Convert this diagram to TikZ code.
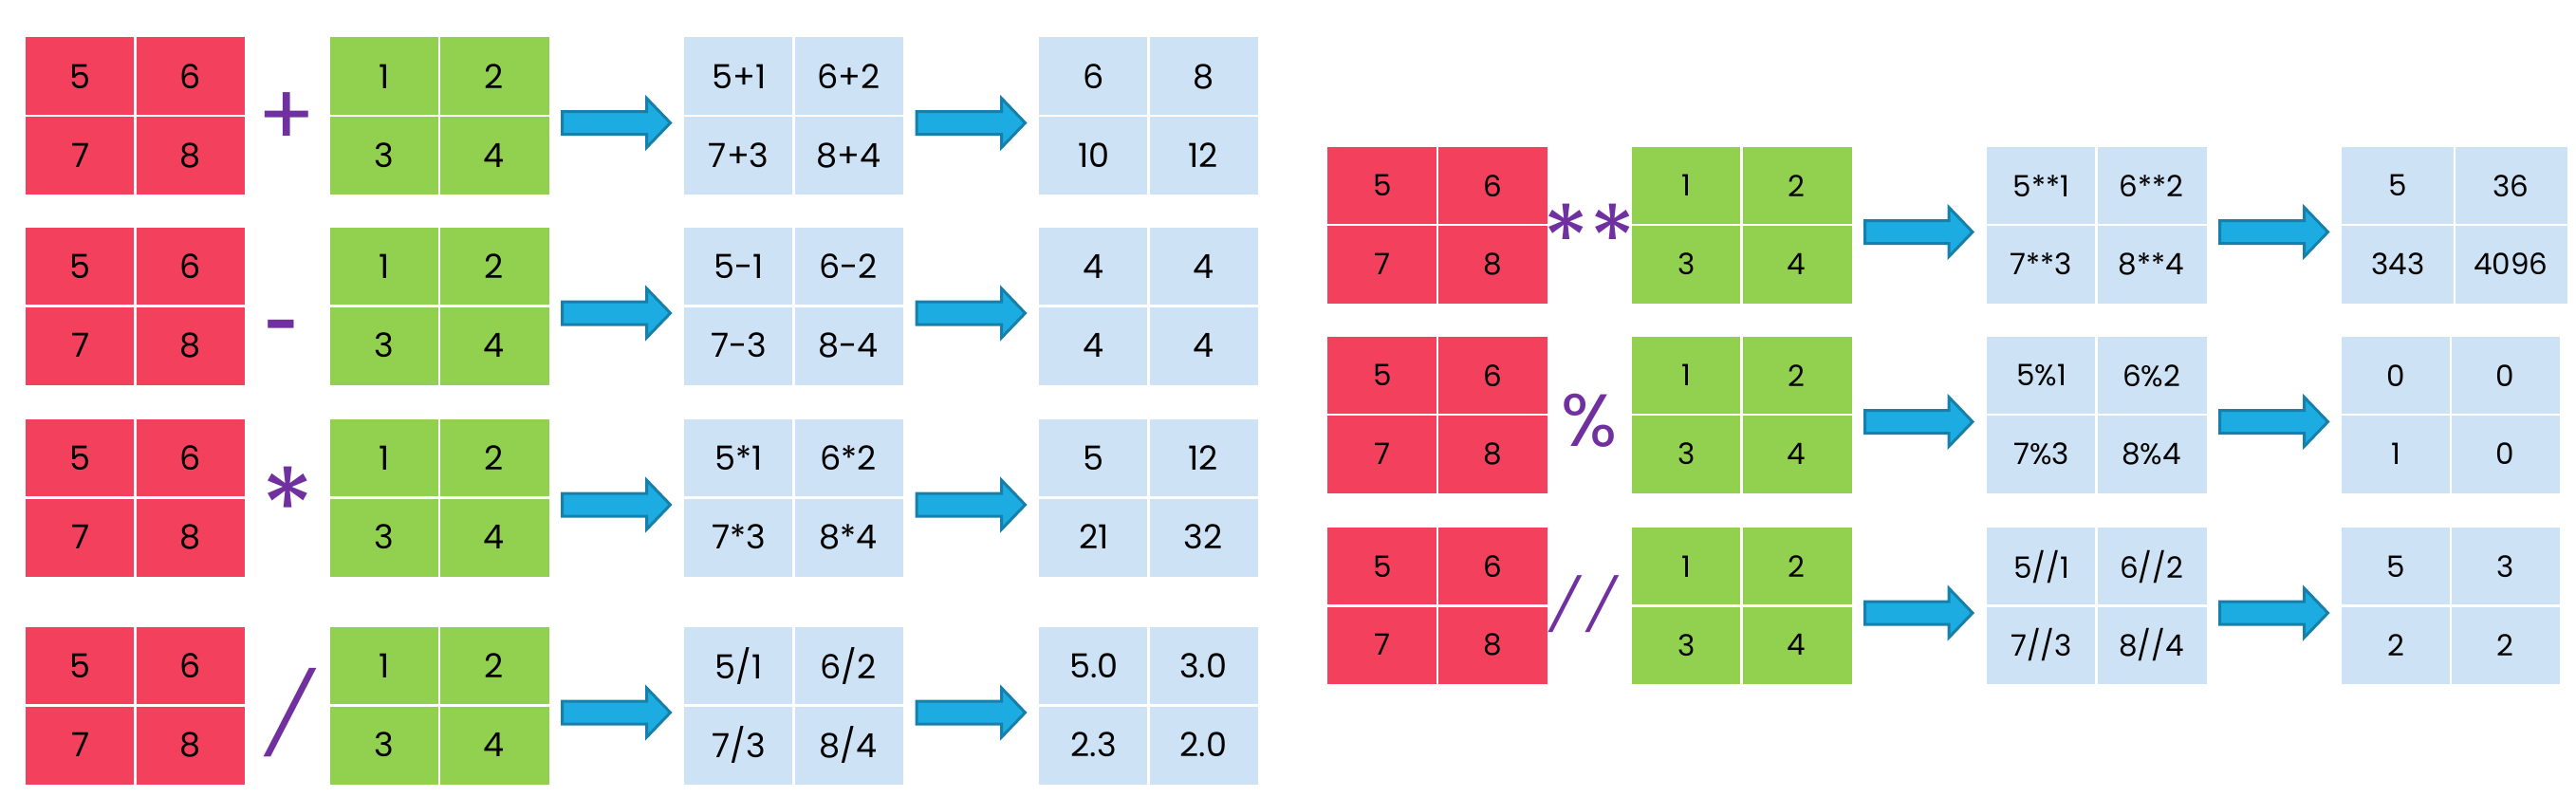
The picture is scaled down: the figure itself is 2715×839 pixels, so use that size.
\documentclass[tikz,border=0pt]{standalone}
\usepackage{fontspec}
\setmainfont{Poppins}
\usetikzlibrary{calc}
\definecolor{cred}{HTML}{F3415D}
\definecolor{cgreen}{HTML}{92D050}
\definecolor{cblue}{HTML}{CDE2F5}
\definecolor{cpurple}{HTML}{7030A0}
\definecolor{carrow}{HTML}{1CACE2}
\definecolor{carrowdk}{HTML}{1680AA}
\tikzset{
  gridbox/.style={inner sep=0pt, outer sep=0pt, draw=none},
  leftbox/.style={gridbox, minimum width=231pt, minimum height=166pt},
  rightbox/.style={gridbox, minimum width=232pt, minimum height=165pt},
  divline/.style={draw=white, line width=2.5pt},
  celltext/.style={inner sep=0pt, text=black},
  opsign/.style={inner sep=0pt, text=cpurple},
  blockarrow/.style={fill=carrow, draw=carrowdk, line width=3pt, line join=miter},
}
\newcommand\mgrid[7]{%
  \node[#2] (#1) at (#3) {};
  \draw[divline] (#1.north) -- (#1.south);
  \draw[divline] (#1.west) -- (#1.east);
  \node[celltext] (#1a) at ($(#1.center)!0.5!(#1.north west)$) {#4};
  \node[celltext] (#1b) at ($(#1.center)!0.5!(#1.north east)$) {#5};
  \node[celltext] (#1c) at ($(#1.center)!0.5!(#1.south west)$) {#6};
  \node[celltext] (#1d) at ($(#1.center)!0.5!(#1.south east)$) {#7};
}
\newcommand\barrow[3]{%
  \coordinate (#1t) at ($(#2.east)+(14,7.5)$);
  \coordinate (#1h) at ($(#3.west)+(-14.5,7.5)$);
  \draw[blockarrow] ($(#1t)+(0,-12)$) -- ($(#1h)+(-25,-12)$) -- ($(#1h)+(-25,-26)$)
    -- (#1h) -- ($(#1h)+(-25,26)$) -- ($(#1h)+(-25,12)$) -- ($(#1t)+(0,12)$) -- cycle;
}
\begin{document}
\begin{tikzpicture}[x=1pt,y=-1pt]
\useasboundingbox[fill=white] (0,0) rectangle (2715,839);
% ---------- left section ----------
\begin{scope}[font=\fontsize{35}{35}\selectfont]
  \mgrid{La}{leftbox, fill=cred}{142.5,122}{5}{6}{7}{8}
  \mgrid{Lb}{leftbox, fill=cgreen}{463,122}{1}{2}{3}{4}
  \mgrid{Lc}{leftbox, fill=cblue}{836.5,122}{5+1}{6+2}{7+3}{8+4}
  \mgrid{Ld}{leftbox, fill=cblue}{1210.5,122}{6}{8}{10}{12}
  \mgrid{Ma}{leftbox, fill=cred}{142.5,322.5}{5}{6}{7}{8}
  \mgrid{Mb}{leftbox, fill=cgreen}{463,322.5}{1}{2}{3}{4}
  \mgrid{Mc}{leftbox, fill=cblue}{836.5,322.5}{5-1}{6-2}{7-3}{8-4}
  \mgrid{Md}{leftbox, fill=cblue}{1210.5,322.5}{4}{4}{4}{4}
  \mgrid{Na}{leftbox, fill=cred}{142.5,524.5}{5}{6}{7}{8}
  \mgrid{Nb}{leftbox, fill=cgreen}{463,524.5}{1}{2}{3}{4}
  \mgrid{Nc}{leftbox, fill=cblue}{836.5,524.5}{5*1}{6*2}{7*3}{8*4}
  \mgrid{Nd}{leftbox, fill=cblue}{1210.5,524.5}{5}{12}{21}{32}
  \mgrid{Oa}{leftbox, fill=cred}{142.5,743.5}{5}{6}{7}{8}
  \mgrid{Ob}{leftbox, fill=cgreen}{463,743.5}{1}{2}{3}{4}
  \mgrid{Oc}{leftbox, fill=cblue}{836.5,743.5}{5/1}{6/2}{7/3}{8/4}
  \mgrid{Od}{leftbox, fill=cblue}{1210.5,743.5}{5.0}{3.0}{2.3}{2.0}
\end{scope}
\node[opsign, font=\fontsize{90}{90}\selectfont] (opL1) at (302,126) {+};
\node[opsign, font=\fontsize{62}{62}\selectfont\bfseries] (opL2) at (297.5,350) {-};
\node[opsign, font=\fontsize{115}{115}\selectfont] (opL3) at (303,534) {*};
\node[opsign, font=\fontsize{84}{84}\selectfont, xslant=0.27] (opL4) at (306.5,751) {/};
\barrow{AL1}{Lb}{Lc}
\barrow{BL1}{Lc}{Ld}
\barrow{AL2}{Mb}{Mc}
\barrow{BL2}{Mc}{Md}
\barrow{AL3}{Nb}{Nc}
\barrow{BL3}{Nc}{Nd}
\barrow{AL4}{Ob}{Oc}
\barrow{BL4}{Oc}{Od}
% ---------- right section ----------
\begin{scope}[font=\fontsize{31}{31}\selectfont]
  \mgrid{Ra}{rightbox, fill=cred}{1515,237}{5}{6}{7}{8}
  \mgrid{Rb}{rightbox, fill=cgreen}{1835.5,237}{1}{2}{3}{4}
  \mgrid{Rc}{rightbox, fill=cblue}{2209.5,237}{5**1}{6**2}{7**3}{8**4}
  \mgrid{Rd}{rightbox, fill=cblue, minimum width=238pt}{2587,237}{5}{36}{343}{4096}
  \mgrid{Sa}{rightbox, fill=cred}{1515,437}{5}{6}{7}{8}
  \mgrid{Sb}{rightbox, fill=cgreen}{1835.5,437}{1}{2}{3}{4}
  \mgrid{Sc}{rightbox, fill=cblue}{2209.5,437}{5\%1}{6\%2}{7\%3}{8\%4}
  \mgrid{Sd}{rightbox, fill=cblue, minimum width=230pt}{2583,437}{0}{0}{1}{0}
  \mgrid{Ta}{rightbox, fill=cred}{1515,638.5}{5}{6}{7}{8}
  \mgrid{Tb}{rightbox, fill=cgreen}{1835.5,638.5}{1}{2}{3}{4}
  \mgrid{Tc}{rightbox, fill=cblue}{2209.5,638.5}{5//1}{6//2}{7//3}{8//4}
  \mgrid{Td}{rightbox, fill=cblue, minimum width=230pt}{2583,638.5}{5}{3}{2}{2}
\end{scope}
\node[opsign, font=\fontsize{100}{100}\selectfont] (opR1) at (1675,252) {**};
\node[opsign, font=\fontsize{78}{78}\selectfont] (opR2) at (1675,443) {\%};
\node[opsign, font=\fontsize{54}{54}\selectfont, xslant=0.27] (opR3) at (1669.5,637) {/\kern13pt/};
\barrow{AR1}{Rb}{Rc}
\barrow{BR1}{Rc}{Rd}
\barrow{AR2}{Sb}{Sc}
\barrow{BR2}{Sc}{Sd}
\barrow{AR3}{Tb}{Tc}
\barrow{BR3}{Tc}{Td}
\end{tikzpicture}
\end{document}
